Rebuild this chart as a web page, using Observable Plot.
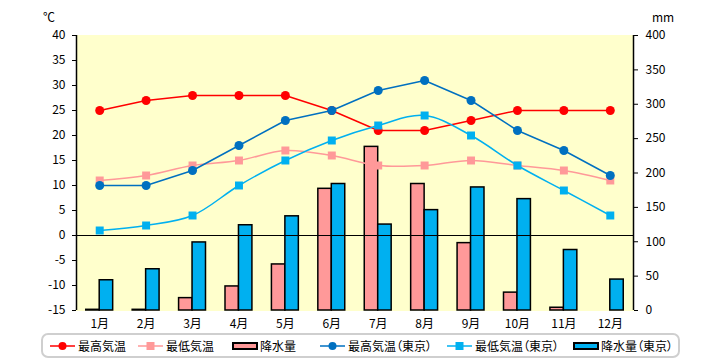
<!DOCTYPE html>
<html><head><meta charset="utf-8">
<script src="https://cdn.jsdelivr.net/npm/d3@7"></script>
<script src="https://cdn.jsdelivr.net/npm/@observablehq/plot@0.6"></script>
<style>
body{margin:0;background:#fff;font-family:"Noto Sans CJK JP",sans-serif;}
#wrap{position:relative;width:720px;height:360px;overflow:hidden;}
#wrap > svg{position:absolute;left:0;top:0;}
.unit{position:absolute;font-size:12px;line-height:14px;top:10px;}
#legend{position:absolute;left:41px;top:333px;width:635px;height:21px;border:2px solid #cfcfcf;border-radius:7px;box-sizing:content-box;}
.item{position:absolute;top:334px;height:23px;display:flex;flex-direction:row;align-items:center;font-size:12px;white-space:nowrap;font-feature-settings:"palt";}
.item svg{display:block;flex:none;margin-right:1px;}
</style></head><body><div id="wrap"></div>
<script>
// ---- data ----
const months = [1,2,3,4,5,6,7,8,9,10,11,12];
const monthLabels = ["1月","2月","3月","4月","5月","6月","7月","8月","9月","10月","11月","12月"];
const hiTemp      = [25,27,28,28,28,25,21,21,23,25,25,25];
const loTemp      = [11,12,14,15,17,16,14,14,15,14,13,11];
const rain        = [1,1,18,35,67,177,238,184,98,26,4,0];
const hiTokyo     = [10,10,13,18,23,25,29,31,27,21,17,12];
const loTokyo     = [1,2,4,10,15,19,22,24,20,14,9,4];
const rainTokyo   = [44,60,99,124,137,184,125,146,179,162,88,45];
const leftTicks   = [-15,-10,-5,0,5,10,15,20,25,30,35,40];
const rightTicks  = [0,50,100,150,200,250,300,350,400];
const seriesNames = ["最高気温","最低気温","降水量","最高気温（東京）","最低気温（東京）","降水量（東京）"];

// ---- build ----
const tMin = -15, tMax = 40, mmMax = 400;
const toC = mm => mm * (tMax - tMin) / mmMax + tMin;
const toMM = c => (c - tMin) * mmMax / (tMax - tMin);
const data = months.map((m, i) => ({m, hi: hiTemp[i], lo: loTemp[i], rain: rain[i], hiT: hiTokyo[i], loT: loTokyo[i], rainT: rainTokyo[i]}));
const bw = 0.29;
const xDomain = [0.5, 12.5];
const C = {red: "#ff0000", pink: "#ff9999", dblue: "#0070c0", lblue: "#00b0f0"};

const chart = Plot.plot({
  width: 720, height: 330,
  marginTop: 35, marginBottom: 20, marginLeft: 76, marginRight: 87,
  style: {fontFamily: '"Noto Sans CJK JP", sans-serif', fontSize: "12px", color: "#000", background: "transparent"},
  x: {domain: xDomain},
  y: {domain: [tMin, tMax]},
  marks: [
    Plot.frame({fill: "#ffffcc", stroke: "#ffffcc"}),
    Plot.rectY(data, {x1: d => d.m - bw, x2: d => d.m, y1: tMin, y2: d => toC(d.rain), fill: C.pink, stroke: "#000", strokeWidth: 1.5}),
    Plot.rectY(data, {x1: d => d.m, x2: d => d.m + bw, y1: tMin, y2: d => toC(d.rainT), fill: C.lblue, stroke: "#000", strokeWidth: 1.5}),
    Plot.ruleY([0], {stroke: "#000", strokeWidth: 1}),
    Plot.ruleX(xDomain, {stroke: "#000", strokeWidth: 1.5}),
    Plot.line(data, {x: "m", y: "lo", stroke: C.pink, strokeWidth: 1.5, curve: "catmull-rom"}),
    Plot.dot(data, {x: "m", y: "lo", symbol: "square", r: 4.5, fill: C.pink, stroke: "none"}),
    Plot.line(data, {x: "m", y: "hi", stroke: C.red, strokeWidth: 1.5}),
    Plot.dot(data, {x: "m", y: "hi", r: 4.5, fill: C.red, stroke: "none"}),
    Plot.line(data, {x: "m", y: "loT", stroke: C.lblue, strokeWidth: 1.5, curve: "catmull-rom"}),
    Plot.dot(data, {x: "m", y: "loT", symbol: "square", r: 4.5, fill: C.lblue, stroke: "none"}),
    Plot.line(data, {x: "m", y: "hiT", stroke: C.dblue, strokeWidth: 1.5}),
    Plot.dot(data, {x: "m", y: "hiT", r: 4.5, fill: C.dblue, stroke: "none"}),
    Plot.axisY(leftTicks, {anchor: "left", tickSize: 4, tickPadding: 7, tickFormat: d => String(d), label: null}),
    Plot.axisY(rightTicks.map(toC), {anchor: "right", tickSize: 4, tickPadding: 8, tickFormat: d => String(Math.round(toMM(d))), label: null}),
    Plot.axisX(months, {anchor: "bottom", tickSize: 0, tickPadding: 9, tickFormat: d => monthLabels[d - 1], label: null})
  ]
});
const wrap = document.getElementById("wrap");
wrap.appendChild(chart);

function addDiv(cls, text, styles) {
  const el = document.createElement("div");
  if (cls) el.className = cls;
  if (text) el.textContent = text;
  Object.assign(el.style, styles || {});
  wrap.appendChild(el);
  return el;
}
addDiv("unit", "℃", {left: "43px"});
addDiv("unit", "mm", {left: "652px"});
addDiv("", "", {}).id = "legend";

const legendKeys = [
  {kind: "circle", color: C.red, x: 50},
  {kind: "square", color: C.pink, x: 138},
  {kind: "bar", color: C.pink, x: 232},
  {kind: "circle", color: C.dblue, x: 320},
  {kind: "square", color: C.lblue, x: 447},
  {kind: "bar", color: C.lblue, x: 573}
];
const ns = "http://www.w3.org/2000/svg";
legendKeys.forEach((k, i) => {
  const item = addDiv("item", "", {left: k.x + "px"});
  const s = document.createElementNS(ns, "svg");
  s.setAttribute("width", 27); s.setAttribute("height", 12);
  if (k.kind === "bar") {
    const r = document.createElementNS(ns, "rect");
    r.setAttribute("x", 1); r.setAttribute("y", 3); r.setAttribute("width", 24); r.setAttribute("height", 6);
    r.setAttribute("fill", k.color); r.setAttribute("stroke", "#000"); r.setAttribute("stroke-width", 2);
    s.appendChild(r);
  } else {
    const l = document.createElementNS(ns, "line");
    l.setAttribute("x1", 0); l.setAttribute("x2", 25); l.setAttribute("y1", 6); l.setAttribute("y2", 6);
    l.setAttribute("stroke", k.color); l.setAttribute("stroke-width", 1.5);
    s.appendChild(l);
    if (k.kind === "circle") {
      const c = document.createElementNS(ns, "circle");
      c.setAttribute("cx", 12.5); c.setAttribute("cy", 6); c.setAttribute("r", 4); c.setAttribute("fill", k.color);
      s.appendChild(c);
    } else {
      const q = document.createElementNS(ns, "rect");
      q.setAttribute("x", 8.5); q.setAttribute("y", 2); q.setAttribute("width", 8); q.setAttribute("height", 8); q.setAttribute("fill", k.color);
      s.appendChild(q);
    }
  }
  item.appendChild(s);
  const t = document.createElement("span");
  t.textContent = seriesNames[i];
  item.appendChild(t);
});
</script>
</body></html>
